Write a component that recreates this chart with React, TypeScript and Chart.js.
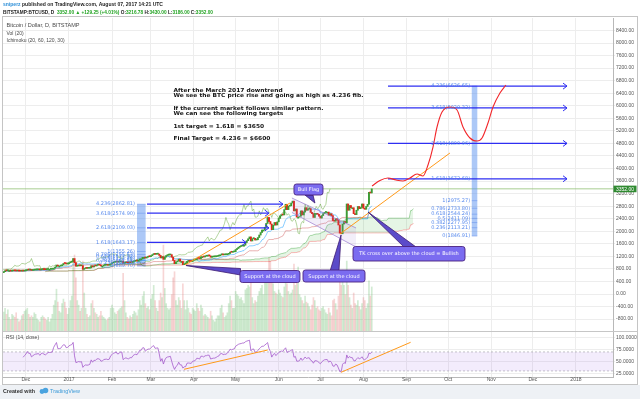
import { useEffect, useRef } from "react";
import { Chart, registerables } from "chart.js";

Chart.register(...registerables);

// ---------- DATA ----------
// day index: 0 = 1 Jan 2017 ; first candle = 15 Nov 2016
const startDay = -47;
const closes = [
  712, 742, 740, 750, 750, 730, 737, 748, 740, 735, 740, 733, 730, 734, 732, 742,
  752, 772, 765, 766, 752, 759, 766, 770, 771, 774, 768, 778, 781, 778, 776, 782, 789, 789, 790, 792, 826, 860, 918, 890, 890, 895, 930, 973, 972, 958, 962,
  998, 1017, 1033, 1130, 1000, 885, 895, 905, 898, 903, 785, 812, 825, 818, 822, 830, 902, 862, 897, 893, 921, 925, 920, 892, 892, 914, 918, 920, 915, 920, 966,
  985, 1010, 1018, 1033, 1016, 1024, 1050, 1050, 980, 996, 1005, 998, 995, 1010, 1008, 1032, 1047, 1052, 1049, 1080, 1118, 1118, 1170, 1170, 1147, 1172, 1190, 1189,
  1222, 1256, 1283, 1264, 1270, 1275, 1230, 1150, 1190, 1105, 1175, 1225, 1240, 1245, 1255, 1172, 1070, 966, 1020, 1045, 1115, 1040, 1040, 935, 962, 965, 1040, 1045, 1040, 1035, 1078,
  1085, 1097, 1142, 1140, 1129, 1190, 1190, 1180, 1205, 1207, 1218, 1216, 1171, 1180, 1185, 1186, 1196, 1210, 1218, 1250, 1255, 1246, 1250, 1251, 1265, 1290, 1335, 1330, 1343, 1350,
  1418, 1450, 1490, 1515, 1530, 1555, 1555, 1640, 1700, 1760, 1820, 1690, 1765, 1775, 1720, 1730, 1800, 1880, 1960, 2040, 2040, 2130, 2250, 2440, 2310, 2230, 2050, 2190, 2280, 2200, 2300,
  2410, 2490, 2530, 2520, 2690, 2860, 2690, 2800, 2810, 2900, 2960, 2650, 2710, 2450, 2450, 2480, 2650, 2520, 2610, 2750, 2670, 2710, 2720, 2600, 2560, 2440, 2570, 2570, 2540, 2480,
  2420, 2500, 2560, 2600, 2610, 2610, 2510, 2560, 2500, 2340, 2320, 2400, 2360, 2200, 1940, 1920, 2230, 2310, 2270, 2870, 2670, 2820, 2750, 2750, 2560, 2530, 2670, 2790, 2720, 2760, 2870,
  2730, 2700, 2790, 2860, 3240, 3220, 3352,
];
const volumes = [
  25, 30, 22, 28, 18, 15, 22, 20, 18, 24, 16, 12, 14, 20, 22, 26,
  28, 30, 22, 18, 20, 18, 24, 22, 16, 14, 12, 18, 20, 18, 16, 14, 18, 12, 16, 22, 34, 40, 55, 38, 26, 24, 36, 42, 38, 30, 22,
  30, 40, 46, 95, 100, 70, 40, 34, 26, 30, 92, 50, 30, 22, 18, 20, 36, 40, 30, 24, 22, 18, 20, 26, 20, 18, 16, 14, 16, 18, 30,
  34, 30, 24, 22, 26, 28, 30, 32, 76, 40, 24, 18, 16, 20, 18, 22, 26, 24, 20, 28, 40, 34, 46, 52, 36, 30, 32, 28,
  42, 48, 60, 40, 30, 26, 40, 50, 44, 113, 56, 36, 30, 28, 30, 48, 70, 78, 40, 34, 44, 40, 30, 62, 40, 28, 40, 30, 24, 22, 30,
  28, 26, 36, 30, 26, 34, 30, 20, 22, 20, 18, 16, 26, 20, 14, 12, 16, 20, 20, 30, 34, 24, 18, 20, 24, 36, 46, 40, 30, 30,
  52, 48, 46, 42, 44, 40, 36, 54, 56, 60, 58, 70, 44, 36, 40, 38, 46, 52, 56, 60, 48, 66, 70, 80, 96, 92, 76, 62, 52, 50, 48,
  54, 50, 46, 44, 58, 76, 62, 52, 48, 50, 54, 88, 60, 74, 84, 48, 44, 40, 36, 46, 38, 36, 32, 28, 34, 44, 40, 30, 32, 28,
  26, 30, 32, 28, 24, 22, 30, 24, 20, 40, 42, 36, 28, 46, 66, 60, 80, 60, 48, 92, 60, 44, 34, 30, 50, 36, 34, 40, 32, 28, 36,
  44, 40, 30, 36, 66, 46, 58,
];

const monthStarts = [-31, 0, 31, 59, 90, 120, 151, 181, 212, 243, 273, 304, 334, 365];
const monthLabels = ["Dec", "2017", "Feb", "Mar", "Apr", "May", "Jun", "Jul", "Aug", "Sep", "Oct", "Nov", "Dec", "2018"];
const priceTicks = [-800, -400, 0, 400, 800, 1200, 1600, 2000, 2400, 2800, 3200, 3600, 4000, 4400, 4800, 5200, 5600, 6000, 6400, 6800, 7200, 7600, 8000, 8400];
const rsiTicks = [25, 50, 75, 100];
const rsiBandHigh = 70;
const rsiBandLow = 30;
const lastPrice = 3352;

const fibRatios = [4.236, 3.618, 2.618, 1.618, 1, 0.786, 0.618, 0.5, 0.382, 0.236, 0];
const fibLeftPrices = [2862.81, 2574.9, 2109.03, 1643.17, 1355.26, 1255.63, 1177.42, 1122.48, 1067.54, 999.57, 889.7];
const fibRightPrices = [6626.65, 5929.32, 4800.96, 3672.68, 2975.27, 2733.8, 2544.24, 2411.09, 2277.95, 2113.21, 1846.91];
const fibLeftArrowStart = 56.2;
const fibLeftArrowEnds = [154.1, 144.0, 144.0, 127.5];
const fibRightArrowStart = 229.7;
const fibRightArrowEnd = 358.6;
const fibLeftBand = [49.0, 55.2];
const fibRightBand = [290.0, 294.0];
const fibLeftLabelDay = 47.5;
const fibRightLabelDay = 288.8;

const projectionDays = [218.2, 223.9, 229.7, 235.5, 240.5, 245.5, 250.6, 254.9, 258.5, 262.1, 265.0, 268.6, 274.3, 279.4, 283.7, 288.7, 293.8, 297.4, 301.7, 305.3, 310.3, 314.6];
const projectionPrices = [3442, 3618, 3697, 3633, 3602, 3697, 3825, 3761, 4112, 4685, 5323, 5801, 5960, 5865, 5323, 4972, 4876, 4972, 5450, 5960, 6406, 6661];
const trendADays = [83.5, 159.1];
const trendAPrices = [924, 2900];
const trendBDays = [195.1, 274.3];
const trendBPrices = [1912, 4494];
const flagDays = [160.5, 206.7];
const flagUpper = [3060, 2104];
const flagLower = [2600, 1498];
const rsiTrendADays = [82.8, 143.1];
const rsiTrendAValues = [33.4, 74.1];
const rsiTrendBDays = [195.9, 246];
const rsiTrendBValues = [27.1, 90.3];

const noteLines = [
  "After the March 2017 downtrend",
  "We see the BTC price rise and going as high as 4.236 fib.",
  "If the current market follows similar pattern.",
  "We can see the following targets",
  "1st target = 1.618 = $3650",
  "Final Target = 4.236 = $6600",
];
const noteOffsets = [0, 5, 17.6, 23, 36.3, 48];
const noteAnchor = { day: 75.2, price: 6480 };

const callouts = [
  { text: "Bull Flag", day: 162.0, price: 3506, w: 29, h: 11, tip: [177.1, 2900], base: [[169.9, 3155], [175.7, 3155]] },
  { text: "Support at the cloud", day: 123.1, price: 749, w: 60, h: 12, tip: [84.3, 908], base: [[123.5, 813], [123.5, 606]] },
  { text: "Support at the cloud", day: 168.5, price: 765, w: 62, h: 12, tip: [195.9, 1880], base: [[188.1, 749], [194.4, 749]] },
  { text: "TK cross over above the cloud = Bullish", day: 204.5, price: 1514, w: 112, h: 14.5, tip: [215.3, 2614], base: [[241.2, 1498], [249.9, 1498]] },
];

// ---------- DERIVED ----------
const xMin = -47.5;
const xMax = 391.7;
const days = closes.map((_, i) => startDay + i);
const opens = closes.map((c, i) => (i === 0 ? c : closes[i - 1]));
const midRange = (i: number, n: number) => {
  let hi = -Infinity, lo = Infinity;
  for (let k = Math.max(0, i - n + 1); k <= i; k++) {
    hi = Math.max(hi, closes[k]);
    lo = Math.min(lo, closes[k]);
  }
  return (hi + lo) / 2;
};
const tenkan = closes.map((_, i) => ({ x: days[i], y: midRange(i, 20) }));
const kijun = closes.map((_, i) => ({ x: days[i], y: midRange(i, 60) }));
const chikou = closes.map((c, i) => ({ x: days[i] - 30, y: c }));
const spanA = closes.map((_, i) => ({ x: days[i] + 30, y: (midRange(i, 20) + midRange(i, 60)) / 2 }));
const spanB = closes.map((_, i) => ({ x: days[i] + 30, y: midRange(i, 120) }));
const rsi: { x: number; y: number }[] = [];
{
  let ag = 0, al = 0;
  for (let i = 1; i < closes.length; i++) {
    const ch = closes[i] - closes[i - 1];
    const g = Math.max(ch, 0), l = Math.max(-ch, 0);
    if (i <= 14) {
      ag += g / 14; al += l / 14;
      if (i < 14) continue;
    } else {
      ag = (ag * 13 + g) / 14; al = (al * 13 + l) / 14;
    }
    rsi.push({ x: days[i], y: al === 0 ? 100 : 100 - 100 / (1 + ag / al) });
  }
}
const pts = (xs: number[], ys: number[]) => xs.map((x, i) => ({ x, y: ys[i] }));

const UP = "#3d9b35", DOWN = "#e0271b";
const GRID = "#ededed", AXIS = "#b8b8b8";
const FIBBLUE = "#2f2ff2";
const AX_FONT = { family: "Liberation Sans, Arial, sans-serif", size: 5 };

const line = (data: any[], color: string, width: number, order: number, extra: any = {}) => ({
  type: "line", data, borderColor: color, borderWidth: width, pointRadius: 0, tension: 0, order, fill: false, ...extra,
});

const datasets: any[] = [
  { type: "bar", data: closes.map((c, i) => ({ x: days[i], y: [opens[i], c] })), backgroundColor: closes.map((c, i) => (c >= opens[i] ? UP : DOWN)), barThickness: 1.3, minBarLength: 1, grouped: false, order: 40 },
  { type: "bar", yAxisID: "yVol", data: volumes.map((v, i) => ({ x: days[i], y: v })), backgroundColor: closes.map((c, i) => (c >= opens[i] ? "rgba(76,175,80,0.25)" : "rgba(229,115,115,0.3)")), barThickness: 1, grouped: false, order: 100 },
  line(tenkan, "rgba(4,150,255,0.6)", 0.8, 60),
  line(kijun, "rgba(200,60,60,0.5)", 0.8, 60),
  line(chikou, "rgba(69,153,21,0.5)", 0.8, 60),
  line(spanA, "rgba(0,140,0,0.4)", 0.8, 70, { fill: { target: 6, above: "rgba(0,160,0,0.1)", below: "rgba(255,0,0,0.08)" } }),
  line(spanB, "rgba(240,60,60,0.45)", 0.8, 70),
  line(pts(flagDays, flagUpper), "rgba(149,117,205,0.85)", 0.8, 30, { fill: { target: 8, above: "rgba(149,117,205,0.12)", below: "rgba(149,117,205,0.12)" } }),
  line(pts(flagDays, flagLower), "rgba(149,117,205,0.85)", 0.8, 30),
  line(pts(trendADays, trendAPrices), "#ff9a1a", 1, 20),
  line(pts(trendBDays, trendBPrices), "#ff9a1a", 1, 20),
  line(pts(projectionDays, projectionPrices), "#f2262a", 1.1, 10, { cubicInterpolationMode: "monotone" }),
  ...fibLeftArrowEnds.map((e, i) => line([{ x: fibLeftArrowStart, y: fibLeftPrices[i] }, { x: e, y: fibLeftPrices[i] }], FIBBLUE, 1.3, 15)),
  ...[0, 1, 2, 3].map((i) => line([{ x: fibRightArrowStart, y: fibRightPrices[i] }, { x: fibRightArrowEnd, y: fibRightPrices[i] }], FIBBLUE, 1.3, 15)),
  line([{ x: xMin, y: rsiBandHigh }, { x: xMax, y: rsiBandHigh }], "rgba(150,150,160,0.8)", 0.7, 90, { yAxisID: "rsi", borderDash: [2, 2], fill: { target: 21, above: "rgba(160,100,230,0.12)", below: "rgba(160,100,230,0.12)" } }),
  line([{ x: xMin, y: rsiBandLow }, { x: xMax, y: rsiBandLow }], "rgba(150,150,160,0.8)", 0.7, 90, { yAxisID: "rsi", borderDash: [2, 2] }),
  line(rsi, "#a45bcc", 0.8, 50, { yAxisID: "rsi" }),
  line(pts(rsiTrendADays, rsiTrendAValues), "#ff9a1a", 1, 20, { yAxisID: "rsi" }),
  line(pts(rsiTrendBDays, rsiTrendBValues), "#ff9a1a", 1, 20, { yAxisID: "rsi" }),
];

function drawRuns(ctx: CanvasRenderingContext2D, runs: [string, string][], x: number, y: number, font: string, targetW?: number) {
  ctx.save();
  ctx.font = font;
  ctx.textBaseline = "middle";
  ctx.textAlign = "left";
  const total = runs.reduce((s, r) => s + ctx.measureText(r[0]).width, 0);
  const sx = targetW ? targetW / total : 1;
  ctx.translate(x, y);
  ctx.scale(sx, 1);
  let cx = 0;
  for (const [t, c] of runs) {
    ctx.fillStyle = c;
    ctx.fillText(t, cx, 0);
    cx += ctx.measureText(t).width;
  }
  ctx.restore();
}

const overlay = {
  id: "overlay",
  beforeDraw(chart: any) {
    const ctx = chart.ctx;
    ctx.save();
    ctx.fillStyle = "#ffffff";
    ctx.fillRect(0, 0, 640, 399);
    ctx.fillStyle = "#eef1f5";
    ctx.fillRect(0, 385, 640, 14);
    ctx.restore();
  },
  beforeDatasetsDraw(chart: any) {
    const ctx = chart.ctx, xs = chart.scales.x, ys = chart.scales.y, a = chart.chartArea;
    const px = (d: number) => xs.getPixelForValue(d), py = (v: number) => ys.getPixelForValue(v);
    ctx.save();
    ctx.strokeStyle = "rgba(140,190,110,0.5)";
    ctx.lineWidth = 1.5;
    ctx.beginPath();
    ctx.moveTo(a.left, py(lastPrice));
    ctx.lineTo(a.right, py(lastPrice));
    ctx.stroke();
    const band = (b: number[], prices: number[]) => {
      const x0 = px(b[0]), x1 = px(b[1]);
      const top = py(prices[0]), bot = py(prices[prices.length - 1]);
      ctx.fillStyle = "rgba(90,145,240,0.5)";
      ctx.fillRect(x0, top, x1 - x0, bot - top);
      ctx.strokeStyle = "rgba(70,120,230,0.6)";
      ctx.lineWidth = 0.6;
      for (const p of prices) {
        ctx.beginPath();
        ctx.moveTo(x0, py(p));
        ctx.lineTo(x1, py(p));
        ctx.stroke();
      }
    };
    band(fibLeftBand, fibLeftPrices);
    band(fibRightBand, fibRightPrices);
    ctx.restore();
  },
  afterDatasetsDraw(chart: any) {
    const ctx = chart.ctx, xs = chart.scales.x, ys = chart.scales.y;
    const px = (d: number) => xs.getPixelForValue(d), py = (v: number) => ys.getPixelForValue(v);
    ctx.save();
    ctx.strokeStyle = FIBBLUE;
    ctx.lineWidth = 1;
    const arrow = (d: number, v: number) => {
      const x = px(d), y = py(v);
      ctx.beginPath();
      ctx.moveTo(x - 4, y - 3);
      ctx.lineTo(x, y);
      ctx.lineTo(x - 4, y + 3);
      ctx.stroke();
    };
    fibLeftArrowEnds.forEach((e, i) => arrow(e, fibLeftPrices[i]));
    [0, 1, 2, 3].forEach((i) => arrow(fibRightArrowEnd, fibRightPrices[i]));
    ctx.font = "5px DejaVu Sans, sans-serif";
    ctx.textAlign = "right";
    ctx.textBaseline = "middle";
    ctx.fillStyle = "rgba(70,125,235,0.9)";
    fibRatios.forEach((r, i) => {
      ctx.fillText(`${r}(${fibLeftPrices[i].toFixed(2)})`, px(fibLeftLabelDay), py(fibLeftPrices[i]));
      ctx.fillText(`${r}(${fibRightPrices[i].toFixed(2)})`, px(fibRightLabelDay), py(fibRightPrices[i]));
    });
    ctx.font = "bold 5.4px DejaVu Sans, sans-serif";
    const w2 = ctx.measureText(noteLines[1]).width;
    const sx = 190 / w2;
    noteLines.forEach((t, i) => {
      drawRuns(ctx, [[t, "#141414"]], px(noteAnchor.day), py(noteAnchor.price) + noteOffsets[i], "bold 5.4px DejaVu Sans, sans-serif", ctx.measureText(t).width * sx);
    });
    for (const c of callouts) {
      const bx = px(c.day), by = py(c.price);
      ctx.beginPath();
      ctx.moveTo(px(c.tip[0]), py(c.tip[1]));
      ctx.lineTo(px(c.base[0][0]), py(c.base[0][1]));
      ctx.lineTo(px(c.base[1][0]), py(c.base[1][1]));
      ctx.closePath();
      ctx.fillStyle = "#5b4bc9";
      ctx.fill();
      ctx.strokeStyle = "#3d1b72";
      ctx.lineWidth = 0.8;
      ctx.stroke();
      ctx.beginPath();
      ctx.roundRect(bx, by, c.w, c.h, 2.5);
      ctx.fillStyle = "#7b6cf0";
      ctx.fill();
      ctx.strokeStyle = "#4b2380";
      ctx.lineWidth = 0.9;
      ctx.stroke();
      ctx.fillStyle = "#ffffff";
      ctx.font = "5px DejaVu Sans, sans-serif";
      ctx.textAlign = "center";
      ctx.textBaseline = "middle";
      ctx.fillText(c.text, bx + c.w / 2, by + c.h / 2 + 0.3, c.w - 4);
    }
    const rs = chart.scales.rsi;
    ctx.strokeStyle = "#c6c6c6";
    ctx.lineWidth = 1;
    ctx.beginPath();
    ctx.moveTo(2, Math.round(rs.top) + 0.5);
    ctx.lineTo(637, Math.round(rs.top) + 0.5);
    ctx.stroke();
    ctx.restore();
  },
  afterDraw(chart: any) {
    const ctx = chart.ctx, ys = chart.scales.y, a = chart.chartArea;
    ctx.save();
    ctx.strokeStyle = "#c4c4c4";
    ctx.lineWidth = 1;
    ctx.strokeRect(2.5, 16.5, 635, 368);
    const yp = ys.getPixelForValue(lastPrice);
    ctx.fillStyle = "#2f8a30";
    ctx.fillRect(a.right + 0.5, yp - 3.2, 23, 6.6);
    ctx.fillStyle = "#ffffff";
    ctx.font = "5px Liberation Sans, Arial, sans-serif";
    ctx.textBaseline = "middle";
    ctx.textAlign = "left";
    ctx.fillText(lastPrice.toFixed(2), a.right + 3, yp + 0.3);
    const G = "#22a322", K = "#1e1e1e";
    drawRuns(ctx, [["sniperz", "#2d8fd8"], [" published on TradingView.com, August 07, 2017 14:21 UTC", K]], 3, 4.8, "bold 5px Liberation Sans, Arial, sans-serif", 160);
    drawRuns(ctx, [["BITSTAMP:BTCUSD, D  ", K], ["3352.00 ", G], ["\u25B2 +129.25 (+4.01%) ", G], ["O:", K], ["3216.78 ", G], ["H:", K], ["3430.00 ", G], ["L:", K], ["3186.00 ", G], ["C:", K], ["3352.00", G]], 3, 12.8, "bold 5px Liberation Sans, Arial, sans-serif", 210);
    const LF = "5px Liberation Sans, Arial, sans-serif", LC = "#4a4a4a";
    drawRuns(ctx, [["Bitcoin / Dollar, D, BITSTAMP", LC]], 6.5, 25.7, LF, 73);
    drawRuns(ctx, [["Vol (20)", LC]], 6.5, 33.2, LF);
    drawRuns(ctx, [["Ichimoku (20, 60, 120, 30)", LC]], 6.5, 40.6, LF);
    drawRuns(ctx, [["RSI (14, close)", LC]], 6, 337.5, LF);
    drawRuns(ctx, [["Created with", "#333333"]], 3, 391.5, "bold 5px Liberation Sans, Arial, sans-serif", 32);
    ctx.fillStyle = "#4aa3df";
    ctx.beginPath();
    ctx.arc(42, 391.5, 2.4, 0, Math.PI * 2);
    ctx.arc(45.5, 390.5, 2.8, 0, Math.PI * 2);
    ctx.fill();
    drawRuns(ctx, [["TradingView", "#3a9ad9"]], 50, 391.5, "5px Liberation Sans, Arial, sans-serif", 30);
    ctx.restore();
  },
};

const config: any = {
  type: "line",
  data: { datasets },
  options: {
    responsive: false,
    devicePixelRatio: 1,
    animation: false,
    events: [],
    layout: { padding: { left: 3, right: 3, top: 18, bottom: 14 } },
    plugins: { legend: { display: false }, tooltip: { enabled: false } },
    scales: {
      x: {
        type: "linear", min: xMin, max: xMax, offset: false,
        grid: { color: GRID, drawTicks: false, offset: false },
        border: { display: true, color: AXIS },
        ticks: { autoSkip: false, maxRotation: 0, padding: 0, color: "#555", font: AX_FONT, callback: (_v: any, i: number) => monthLabels[i] ?? "" },
        afterBuildTicks: (s: any) => { s.ticks = monthStarts.map((v) => ({ value: v })); },
        afterFit: (s: any) => { s.height = 8; },
      },
      y: {
        type: "linear", position: "right", stack: "panes", stackWeight: 313, min: -1179, max: 8797,
        grid: { color: GRID, tickLength: 2 },
        border: { display: true, color: AXIS },
        ticks: { autoSkip: false, padding: 1, color: "#555", font: AX_FONT, callback: (v: any) => Number(v).toFixed(2) },
        afterBuildTicks: (s: any) => { s.ticks = priceTicks.map((v) => ({ value: v })); },
        afterFit: (s: any) => { s.width = 24; },
      },
      rsi: {
        type: "linear", position: "right", stack: "panes", stackWeight: 46, min: 17.2, max: 114.1,
        grid: { color: GRID, tickLength: 2 },
        border: { display: true, color: AXIS },
        ticks: { autoSkip: false, padding: 1, color: "#555", font: AX_FONT, callback: (v: any) => Number(v).toFixed(4) },
        afterBuildTicks: (s: any) => { s.ticks = rsiTicks.map((v) => ({ value: v })); },
        afterFit: (s: any) => { s.width = 24; },
      },
      yVol: {
        type: "linear", position: "right", display: false, min: -60.5, max: 411.8,
        afterFit: (s: any) => { s.width = 0; },
      },
    },
  },
  plugins: [overlay],
};

export default function App() {
  const ref = useRef<HTMLCanvasElement>(null);
  useEffect(() => {
    const chart = new Chart(ref.current as HTMLCanvasElement, config);
    return () => chart.destroy();
  }, []);
  return (
    <div style={{ position: "fixed", left: 0, top: 0, width: 640, height: 399, background: "#fff" }}>
      <canvas ref={ref} width={640} height={399} style={{ display: "block", width: 640, height: 399 }} />
    </div>
  );
}
